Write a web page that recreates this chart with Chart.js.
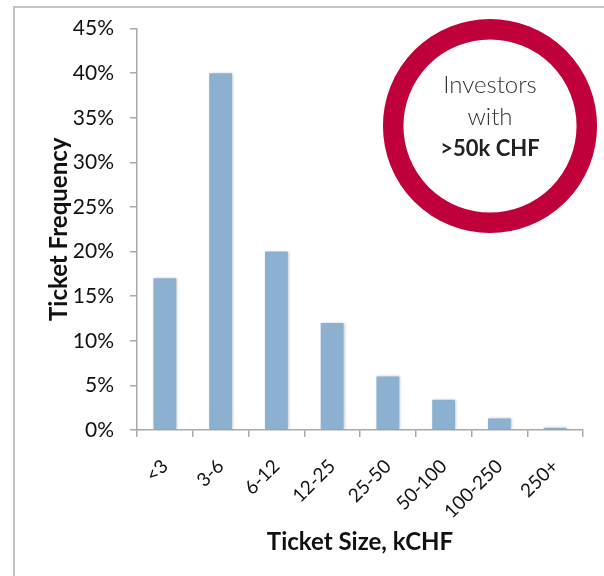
<!DOCTYPE html>
<html>
<head>
<meta charset="utf-8">
<script src="https://cdn.jsdelivr.net/npm/chart.js@4/dist/chart.umd.min.js"></script>
<style>
  html, body { margin: 0; padding: 0; background: #fff; }
  #wrap { position: relative; width: 604px; height: 576px; overflow: hidden; }
  #frame { position: absolute; left: 13px; top: 6px; width: 620px; height: 620px; border: 2px solid #c4c4c4; box-sizing: border-box; }
  canvas { position: absolute; left: 0; top: 0; }
</style>
</head>
<body>
<div id="wrap">
  <div id="frame"></div>
  <canvas id="chart" width="604" height="576"></canvas>
</div>
<script>
// ticket size buckets (kCHF) and share of tickets in %
const categories = ['<3', '3-6', '6-12', '12-25', '25-50', '50-100', '100-250', '250+'];
const frequency = [17, 40, 20, 12, 6, 3.4, 1.3, 0.25];
const yTicks = [0, 5, 10, 15, 20, 25, 30, 35, 40, 45];
const badgeLines = ['Investors', 'with', '>50k CHF'];

const axisGrey = '#a9a9a9';
const fontFamily = 'Lato, "Open Sans", sans-serif';

// soft shadow behind the bars
const barShadow = {
    id: 'barShadow',
    beforeDatasetsDraw(chart) {
        const ctx = chart.ctx;
        ctx.save();
        ctx.shadowColor = 'rgba(0, 0, 0, 0.28)';
        ctx.shadowBlur = 3;
        ctx.shadowOffsetX = 1;
        ctx.shadowOffsetY = 0;
    },
    afterDatasetsDraw(chart) {
        chart.ctx.restore();
    }
};

// red ring with the caption in the upper right
const badge = {
    id: 'badge',
    afterDraw(chart) {
        const ctx = chart.ctx;
        const cx = 490, cy = 126;
        ctx.save();
        ctx.beginPath();
        ctx.arc(cx, cy, 96.8, 0, Math.PI * 2);
        ctx.lineWidth = 20.5;
        ctx.strokeStyle = '#c0003a';
        ctx.stroke();

        ctx.fillStyle = '#333';
        ctx.textAlign = 'center';
        ctx.textBaseline = 'middle';
        ctx.font = '300 24px ' + fontFamily;
        ctx.fillText(badgeLines[0], cx, 85);
        ctx.fillText(badgeLines[1], cx, 117);
        ctx.fillStyle = '#222';
        ctx.font = 'bold 22px ' + fontFamily;
        ctx.fillText(badgeLines[2], cx, 149);
        ctx.restore();
    }
};

const ctx = document.getElementById('chart').getContext('2d');
new Chart(ctx, {
    type: 'bar',
    data: {
        labels: categories,
        datasets: [{
            data: frequency,
            backgroundColor: '#8cb0cf',
            borderWidth: 0,
            categoryPercentage: 1,
            barPercentage: 0.41
        }]
    },
    options: {
        responsive: false,
        animation: false,
        layout: { padding: { top: 28, right: 21, bottom: 0, left: 0 } },
        plugins: {
            legend: { display: false },
            tooltip: { enabled: false }
        },
        scales: {
            x: {
                grid: {
                    offset: true,
                    drawOnChartArea: false,
                    drawTicks: true,
                    tickLength: 7,
                    color: axisGrey,
                    lineWidth: 1.5
                },
                border: { color: axisGrey, width: 1.5 },
                ticks: {
                    minRotation: 45,
                    maxRotation: 45,
                    padding: 18,
                    color: '#111',
                    font: { family: fontFamily, size: 19 }
                },
                title: {
                    display: true,
                    text: 'Ticket Size, kCHF',
                    color: '#111',
                    font: { family: fontFamily, size: 24, weight: 'bold' },
                    padding: { top: 0, bottom: 19 }
                },
                afterFit(scale) { scale.height = 146; }
            },
            y: {
                min: 0,
                max: 45,
                afterBuildTicks(scale) {
                    scale.ticks = yTicks.map(v => ({ value: v }));
                },
                grid: {
                    drawOnChartArea: false,
                    drawTicks: true,
                    tickLength: 7,
                    color: axisGrey,
                    lineWidth: 1.5
                },
                border: { color: axisGrey, width: 1.5 },
                ticks: {
                    padding: 16,
                    color: '#111',
                    font: { family: fontFamily, size: 21 },
                    callback: value => value + '%'
                },
                title: {
                    display: true,
                    text: 'Ticket Frequency',
                    color: '#111',
                    font: { family: fontFamily, size: 24, weight: 'bold' },
                    padding: { top: 45, bottom: 0 }
                },
                afterFit(scale) { scale.width = 137; }
            }
        }
    },
    plugins: [barShadow, badge]
});
</script>
</body>
</html>
